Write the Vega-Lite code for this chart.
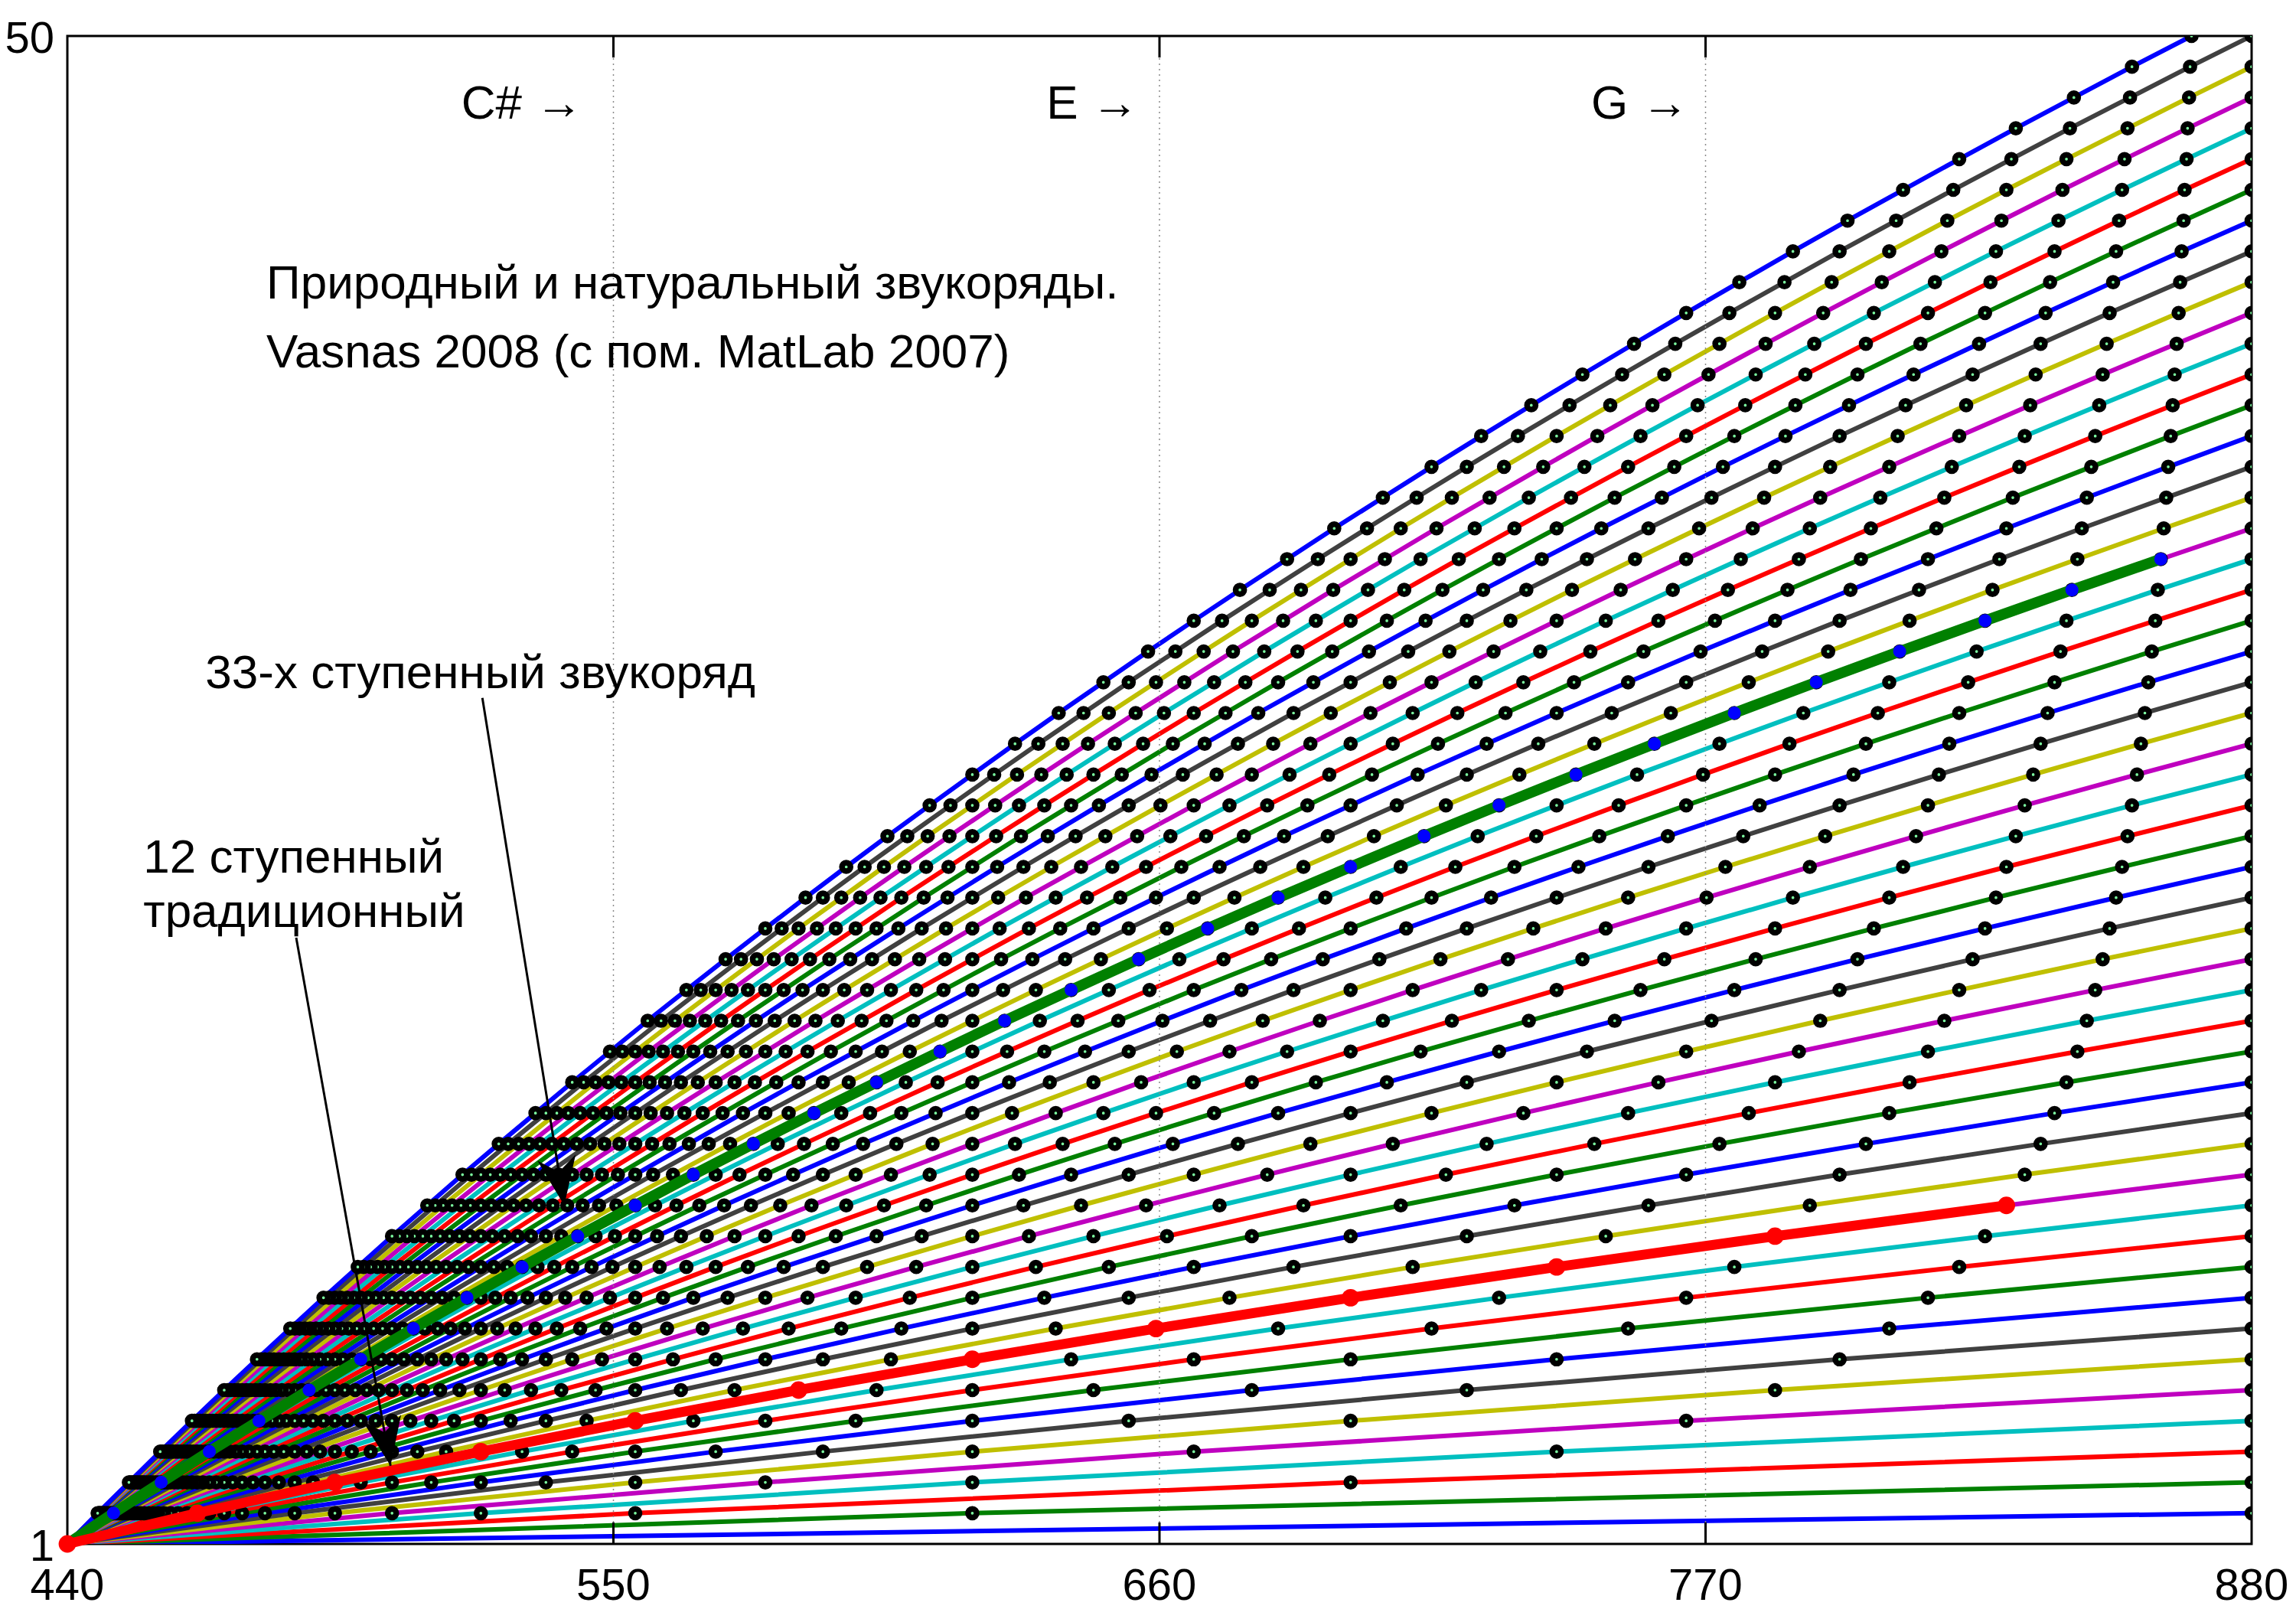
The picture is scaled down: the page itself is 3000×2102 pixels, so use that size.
{
"$schema":"https://vega.github.io/schema/vega-lite/v6.json",
"width":2854,"height":1970,
"autosize":{"type":"none"},
"padding":{"left":88,"top":47,"right":58,"bottom":85},
"background":"white",
"config":{"view":{"stroke":"black","strokeWidth":3},"font":"Liberation Sans"},
"datasets":{
"grid":[{"t":550},{"t":660},{"t":770}],
"xl":[{"v":440,"t":"440"},{"v":550,"t":"550"},{"v":660,"t":"660"},{"v":770,"t":"770"},{"v":880,"t":"880"}],
"yl":[{"v":1,"t":"1"},{"v":50,"t":"50"}],
"arr":[{"id":1,"x":523.6,"y":28.49,"x2":540.1,"y2":12.0},{"id":2,"x":486.1,"y":20.7,"x2":505.1,"y2":3.54}],
"txt":[{"x":480.1,"y":41.47,"t":"Природный и натуральный звукоряды."},{"x":480.1,"y":39.23,"t":"Vasnas 2008 (с пом. MatLab 2007)"},{"x":467.8,"y":28.81,"t":"33-х ступенный звукоряд"},{"x":455.3,"y":22.82,"t":"12 ступенный"},{"x":455.3,"y":21.05,"t":"традиционный"}],
"notes":[{"x":543.8,"y":47.32,"t":"C# →"},{"x":655.8,"y":47.32,"t":"E →"},{"x":766.6,"y":47.32,"t":"G →"}],
"pts":[
{"n":1,"x":440,"y":1},{"n":1,"x":880,"y":2},
{"n":2,"x":440,"y":1},{"n":2,"x":622.3,"y":2},{"n":2,"x":880,"y":3},
{"n":3,"x":440,"y":1},{"n":3,"x":554.4,"y":2},{"n":3,"x":698.5,"y":3},{"n":3,"x":880,"y":4},
{"n":4,"x":440,"y":1},{"n":4,"x":523.3,"y":2},{"n":4,"x":622.3,"y":3},{"n":4,"x":740.0,"y":4},{"n":4,"x":880,"y":5},
{"n":5,"x":440,"y":1},{"n":5,"x":505.4,"y":2},{"n":5,"x":580.6,"y":3},{"n":5,"x":666.9,"y":4},{"n":5,"x":766.1,"y":5},{"n":5,"x":880,"y":6},
{"n":6,"x":440,"y":1},{"n":6,"x":493.9,"y":2},{"n":6,"x":554.4,"y":3},{"n":6,"x":622.3,"y":4},{"n":6,"x":698.5,"y":5},{"n":6,"x":784.0,"y":6},{"n":6,"x":880,"y":7},
{"n":7,"x":440,"y":1},{"n":7,"x":485.8,"y":2},{"n":7,"x":536.4,"y":3},{"n":7,"x":592.2,"y":4},{"n":7,"x":653.8,"y":5},{"n":7,"x":721.9,"y":6},{"n":7,"x":797.0,"y":7},{"n":7,"x":880,"y":8},
{"n":8,"x":440,"y":1},{"n":8,"x":479.8,"y":2},{"n":8,"x":523.3,"y":3},{"n":8,"x":570.6,"y":4},{"n":8,"x":622.3,"y":5},{"n":8,"x":678.6,"y":6},{"n":8,"x":740.0,"y":7},{"n":8,"x":807.0,"y":8},{"n":8,"x":880,"y":9},
{"n":9,"x":440,"y":1},{"n":9,"x":475.2,"y":2},{"n":9,"x":513.3,"y":3},{"n":9,"x":554.4,"y":4},{"n":9,"x":598.8,"y":5},{"n":9,"x":646.7,"y":6},{"n":9,"x":698.5,"y":7},{"n":9,"x":754.4,"y":8},{"n":9,"x":814.8,"y":9},{"n":9,"x":880,"y":10},
{"n":10,"x":440,"y":1},{"n":10,"x":471.6,"y":2},{"n":10,"x":505.4,"y":3},{"n":10,"x":541.7,"y":4},{"n":10,"x":580.6,"y":5},{"n":10,"x":622.3,"y":6},{"n":10,"x":666.9,"y":7},{"n":10,"x":714.8,"y":8},{"n":10,"x":766.1,"y":9},{"n":10,"x":821.1,"y":10},{"n":10,"x":880,"y":11},
{"n":11,"x":440,"y":1},{"n":11,"x":468.6,"y":2},{"n":11,"x":499.1,"y":3},{"n":11,"x":531.6,"y":4},{"n":11,"x":566.1,"y":5},{"n":11,"x":603.0,"y":6},{"n":11,"x":642.2,"y":7},{"n":11,"x":683.9,"y":8},{"n":11,"x":728.4,"y":9},{"n":11,"x":775.8,"y":10},{"n":11,"x":826.3,"y":11},{"n":11,"x":880,"y":12},
{"n":12,"x":440,"y":1},{"n":12,"x":466.2,"y":2},{"n":12,"x":493.9,"y":3},{"n":12,"x":523.3,"y":4},{"n":12,"x":554.4,"y":5},{"n":12,"x":587.3,"y":6},{"n":12,"x":622.3,"y":7},{"n":12,"x":659.3,"y":8},{"n":12,"x":698.5,"y":9},{"n":12,"x":740.0,"y":10},{"n":12,"x":784.0,"y":11},{"n":12,"x":830.6,"y":12},{"n":12,"x":880,"y":13},
{"n":13,"x":440,"y":1},{"n":13,"x":464.1,"y":2},{"n":13,"x":489.5,"y":3},{"n":13,"x":516.3,"y":4},{"n":13,"x":544.6,"y":5},{"n":13,"x":574.4,"y":6},{"n":13,"x":605.9,"y":7},{"n":13,"x":639.1,"y":8},{"n":13,"x":674.1,"y":9},{"n":13,"x":711.0,"y":10},{"n":13,"x":749.9,"y":11},{"n":13,"x":791.0,"y":12},{"n":13,"x":834.3,"y":13},{"n":13,"x":880,"y":14},
{"n":14,"x":440,"y":1},{"n":14,"x":462.3,"y":2},{"n":14,"x":485.8,"y":3},{"n":14,"x":510.5,"y":4},{"n":14,"x":536.4,"y":5},{"n":14,"x":563.6,"y":6},{"n":14,"x":592.2,"y":7},{"n":14,"x":622.3,"y":8},{"n":14,"x":653.8,"y":9},{"n":14,"x":687.0,"y":10},{"n":14,"x":721.9,"y":11},{"n":14,"x":758.5,"y":12},{"n":14,"x":797.0,"y":13},{"n":14,"x":837.5,"y":14},{"n":14,"x":880,"y":15},
{"n":15,"x":440,"y":1},{"n":15,"x":460.8,"y":2},{"n":15,"x":482.6,"y":3},{"n":15,"x":505.4,"y":4},{"n":15,"x":529.3,"y":5},{"n":15,"x":554.4,"y":6},{"n":15,"x":580.6,"y":7},{"n":15,"x":608.0,"y":8},{"n":15,"x":636.8,"y":9},{"n":15,"x":666.9,"y":10},{"n":15,"x":698.5,"y":11},{"n":15,"x":731.5,"y":12},{"n":15,"x":766.1,"y":13},{"n":15,"x":802.3,"y":14},{"n":15,"x":840.3,"y":15},{"n":15,"x":880,"y":16},
{"n":16,"x":440,"y":1},{"n":16,"x":459.5,"y":2},{"n":16,"x":479.8,"y":3},{"n":16,"x":501.1,"y":4},{"n":16,"x":523.3,"y":5},{"n":16,"x":546.4,"y":6},{"n":16,"x":570.6,"y":7},{"n":16,"x":595.9,"y":8},{"n":16,"x":622.3,"y":9},{"n":16,"x":649.8,"y":10},{"n":16,"x":678.6,"y":11},{"n":16,"x":708.6,"y":12},{"n":16,"x":740.0,"y":13},{"n":16,"x":772.8,"y":14},{"n":16,"x":807.0,"y":15},{"n":16,"x":842.7,"y":16},{"n":16,"x":880,"y":17},
{"n":17,"x":440,"y":1},{"n":17,"x":458.3,"y":2},{"n":17,"x":477.4,"y":3},{"n":17,"x":497.3,"y":4},{"n":17,"x":517.9,"y":5},{"n":17,"x":539.5,"y":6},{"n":17,"x":562.0,"y":7},{"n":17,"x":585.3,"y":8},{"n":17,"x":609.7,"y":9},{"n":17,"x":635.1,"y":10},{"n":17,"x":661.5,"y":11},{"n":17,"x":689.0,"y":12},{"n":17,"x":717.7,"y":13},{"n":17,"x":747.6,"y":14},{"n":17,"x":778.7,"y":15},{"n":17,"x":811.1,"y":16},{"n":17,"x":844.9,"y":17},{"n":17,"x":880,"y":18},
{"n":18,"x":440,"y":1},{"n":18,"x":457.3,"y":2},{"n":18,"x":475.2,"y":3},{"n":18,"x":493.9,"y":4},{"n":18,"x":513.3,"y":5},{"n":18,"x":533.4,"y":6},{"n":18,"x":554.4,"y":7},{"n":18,"x":576.1,"y":8},{"n":18,"x":598.8,"y":9},{"n":18,"x":622.3,"y":10},{"n":18,"x":646.7,"y":11},{"n":18,"x":672.1,"y":12},{"n":18,"x":698.5,"y":13},{"n":18,"x":725.9,"y":14},{"n":18,"x":754.4,"y":15},{"n":18,"x":784.0,"y":16},{"n":18,"x":814.8,"y":17},{"n":18,"x":846.8,"y":18},{"n":18,"x":880,"y":19},
{"n":19,"x":440,"y":1},{"n":19,"x":456.4,"y":2},{"n":19,"x":473.3,"y":3},{"n":19,"x":490.9,"y":4},{"n":19,"x":509.1,"y":5},{"n":19,"x":528.1,"y":6},{"n":19,"x":547.7,"y":7},{"n":19,"x":568.0,"y":8},{"n":19,"x":589.1,"y":9},{"n":19,"x":611.0,"y":10},{"n":19,"x":633.7,"y":11},{"n":19,"x":657.3,"y":12},{"n":19,"x":681.7,"y":13},{"n":19,"x":707.0,"y":14},{"n":19,"x":733.3,"y":15},{"n":19,"x":760.5,"y":16},{"n":19,"x":788.8,"y":17},{"n":19,"x":818.1,"y":18},{"n":19,"x":848.5,"y":19},{"n":19,"x":880,"y":20},
{"n":20,"x":440,"y":1},{"n":20,"x":455.5,"y":2},{"n":20,"x":471.6,"y":3},{"n":20,"x":488.2,"y":4},{"n":20,"x":505.4,"y":5},{"n":20,"x":523.3,"y":6},{"n":20,"x":541.7,"y":7},{"n":20,"x":560.8,"y":8},{"n":20,"x":580.6,"y":9},{"n":20,"x":601.1,"y":10},{"n":20,"x":622.3,"y":11},{"n":20,"x":644.2,"y":12},{"n":20,"x":666.9,"y":13},{"n":20,"x":690.4,"y":14},{"n":20,"x":714.8,"y":15},{"n":20,"x":740.0,"y":16},{"n":20,"x":766.1,"y":17},{"n":20,"x":793.1,"y":18},{"n":20,"x":821.1,"y":19},{"n":20,"x":850.0,"y":20},{"n":20,"x":880,"y":21},
{"n":21,"x":440,"y":1},{"n":21,"x":454.8,"y":2},{"n":21,"x":470.0,"y":3},{"n":21,"x":485.8,"y":4},{"n":21,"x":502.1,"y":5},{"n":21,"x":519.0,"y":6},{"n":21,"x":536.4,"y":7},{"n":21,"x":554.4,"y":8},{"n":21,"x":573.0,"y":9},{"n":21,"x":592.2,"y":10},{"n":21,"x":612.1,"y":11},{"n":21,"x":632.6,"y":12},{"n":21,"x":653.8,"y":13},{"n":21,"x":675.8,"y":14},{"n":21,"x":698.5,"y":15},{"n":21,"x":721.9,"y":16},{"n":21,"x":746.1,"y":17},{"n":21,"x":771.2,"y":18},{"n":21,"x":797.0,"y":19},{"n":21,"x":823.8,"y":20},{"n":21,"x":851.4,"y":21},{"n":21,"x":880,"y":22},
{"n":22,"x":440,"y":1},{"n":22,"x":454.1,"y":2},{"n":22,"x":468.6,"y":3},{"n":22,"x":483.6,"y":4},{"n":22,"x":499.1,"y":5},{"n":22,"x":515.1,"y":6},{"n":22,"x":531.6,"y":7},{"n":22,"x":548.6,"y":8},{"n":22,"x":566.1,"y":9},{"n":22,"x":584.3,"y":10},{"n":22,"x":603.0,"y":11},{"n":22,"x":622.3,"y":12},{"n":22,"x":642.2,"y":13},{"n":22,"x":662.7,"y":14},{"n":22,"x":683.9,"y":15},{"n":22,"x":705.8,"y":16},{"n":22,"x":728.4,"y":17},{"n":22,"x":751.7,"y":18},{"n":22,"x":775.8,"y":19},{"n":22,"x":800.6,"y":20},{"n":22,"x":826.3,"y":21},{"n":22,"x":852.7,"y":22},{"n":22,"x":880,"y":23},
{"n":23,"x":440,"y":1},{"n":23,"x":453.5,"y":2},{"n":23,"x":467.3,"y":3},{"n":23,"x":481.6,"y":4},{"n":23,"x":496.4,"y":5},{"n":23,"x":511.6,"y":6},{"n":23,"x":527.2,"y":7},{"n":23,"x":543.3,"y":8},{"n":23,"x":560.0,"y":9},{"n":23,"x":577.1,"y":10},{"n":23,"x":594.8,"y":11},{"n":23,"x":613.0,"y":12},{"n":23,"x":631.7,"y":13},{"n":23,"x":651.0,"y":14},{"n":23,"x":671.0,"y":15},{"n":23,"x":691.5,"y":16},{"n":23,"x":712.6,"y":17},{"n":23,"x":734.4,"y":18},{"n":23,"x":756.9,"y":19},{"n":23,"x":780.1,"y":20},{"n":23,"x":803.9,"y":21},{"n":23,"x":828.5,"y":22},{"n":23,"x":853.9,"y":23},{"n":23,"x":880,"y":24},
{"n":24,"x":440,"y":1},{"n":24,"x":452.9,"y":2},{"n":24,"x":466.2,"y":3},{"n":24,"x":479.8,"y":4},{"n":24,"x":493.9,"y":5},{"n":24,"x":508.4,"y":6},{"n":24,"x":523.3,"y":7},{"n":24,"x":538.6,"y":8},{"n":24,"x":554.4,"y":9},{"n":24,"x":570.6,"y":10},{"n":24,"x":587.3,"y":11},{"n":24,"x":604.5,"y":12},{"n":24,"x":622.3,"y":13},{"n":24,"x":640.5,"y":14},{"n":24,"x":659.3,"y":15},{"n":24,"x":678.6,"y":16},{"n":24,"x":698.5,"y":17},{"n":24,"x":718.9,"y":18},{"n":24,"x":740.0,"y":19},{"n":24,"x":761.7,"y":20},{"n":24,"x":784.0,"y":21},{"n":24,"x":807.0,"y":22},{"n":24,"x":830.6,"y":23},{"n":24,"x":855.0,"y":24},{"n":24,"x":880,"y":25},
{"n":25,"x":440,"y":1},{"n":25,"x":452.4,"y":2},{"n":25,"x":465.1,"y":3},{"n":25,"x":478.2,"y":4},{"n":25,"x":491.6,"y":5},{"n":25,"x":505.4,"y":6},{"n":25,"x":519.6,"y":7},{"n":25,"x":534.3,"y":8},{"n":25,"x":549.3,"y":9},{"n":25,"x":564.7,"y":10},{"n":25,"x":580.6,"y":11},{"n":25,"x":596.9,"y":12},{"n":25,"x":613.7,"y":13},{"n":25,"x":630.9,"y":14},{"n":25,"x":648.7,"y":15},{"n":25,"x":666.9,"y":16},{"n":25,"x":685.7,"y":17},{"n":25,"x":705.0,"y":18},{"n":25,"x":724.8,"y":19},{"n":25,"x":745.2,"y":20},{"n":25,"x":766.1,"y":21},{"n":25,"x":787.6,"y":22},{"n":25,"x":809.8,"y":23},{"n":25,"x":832.5,"y":24},{"n":25,"x":855.9,"y":25},{"n":25,"x":880,"y":26},
{"n":26,"x":440,"y":1},{"n":26,"x":451.9,"y":2},{"n":26,"x":464.1,"y":3},{"n":26,"x":476.6,"y":4},{"n":26,"x":489.5,"y":5},{"n":26,"x":502.7,"y":6},{"n":26,"x":516.3,"y":7},{"n":26,"x":530.3,"y":8},{"n":26,"x":544.6,"y":9},{"n":26,"x":559.3,"y":10},{"n":26,"x":574.4,"y":11},{"n":26,"x":589.9,"y":12},{"n":26,"x":605.9,"y":13},{"n":26,"x":622.3,"y":14},{"n":26,"x":639.1,"y":15},{"n":26,"x":656.3,"y":16},{"n":26,"x":674.1,"y":17},{"n":26,"x":692.3,"y":18},{"n":26,"x":711.0,"y":19},{"n":26,"x":730.2,"y":20},{"n":26,"x":749.9,"y":21},{"n":26,"x":770.2,"y":22},{"n":26,"x":791.0,"y":23},{"n":26,"x":812.4,"y":24},{"n":26,"x":834.3,"y":25},{"n":26,"x":856.9,"y":26},{"n":26,"x":880,"y":27},
{"n":27,"x":440,"y":1},{"n":27,"x":451.4,"y":2},{"n":27,"x":463.2,"y":3},{"n":27,"x":475.2,"y":4},{"n":27,"x":487.6,"y":5},{"n":27,"x":500.3,"y":6},{"n":27,"x":513.3,"y":7},{"n":27,"x":526.6,"y":8},{"n":27,"x":540.3,"y":9},{"n":27,"x":554.4,"y":10},{"n":27,"x":568.8,"y":11},{"n":27,"x":583.6,"y":12},{"n":27,"x":598.8,"y":13},{"n":27,"x":614.3,"y":14},{"n":27,"x":630.3,"y":15},{"n":27,"x":646.7,"y":16},{"n":27,"x":663.5,"y":17},{"n":27,"x":680.8,"y":18},{"n":27,"x":698.5,"y":19},{"n":27,"x":716.6,"y":20},{"n":27,"x":735.3,"y":21},{"n":27,"x":754.4,"y":22},{"n":27,"x":774.0,"y":23},{"n":27,"x":794.1,"y":24},{"n":27,"x":814.8,"y":25},{"n":27,"x":836.0,"y":26},{"n":27,"x":857.7,"y":27},{"n":27,"x":880,"y":28},
{"n":28,"x":440,"y":1},{"n":28,"x":451.0,"y":2},{"n":28,"x":462.3,"y":3},{"n":28,"x":473.9,"y":4},{"n":28,"x":485.8,"y":5},{"n":28,"x":498.0,"y":6},{"n":28,"x":510.5,"y":7},{"n":28,"x":523.3,"y":8},{"n":28,"x":536.4,"y":9},{"n":28,"x":549.8,"y":10},{"n":28,"x":563.6,"y":11},{"n":28,"x":577.7,"y":12},{"n":28,"x":592.2,"y":13},{"n":28,"x":607.0,"y":14},{"n":28,"x":622.3,"y":15},{"n":28,"x":637.9,"y":16},{"n":28,"x":653.8,"y":17},{"n":28,"x":670.2,"y":18},{"n":28,"x":687.0,"y":19},{"n":28,"x":704.3,"y":20},{"n":28,"x":721.9,"y":21},{"n":28,"x":740.0,"y":22},{"n":28,"x":758.5,"y":23},{"n":28,"x":777.6,"y":24},{"n":28,"x":797.0,"y":25},{"n":28,"x":817.0,"y":26},{"n":28,"x":837.5,"y":27},{"n":28,"x":858.5,"y":28},{"n":28,"x":880,"y":29},
{"n":29,"x":440,"y":1},{"n":29,"x":450.6,"y":2},{"n":29,"x":461.5,"y":3},{"n":29,"x":472.7,"y":4},{"n":29,"x":484.1,"y":5},{"n":29,"x":495.9,"y":6},{"n":29,"x":507.8,"y":7},{"n":29,"x":520.1,"y":8},{"n":29,"x":532.7,"y":9},{"n":29,"x":545.6,"y":10},{"n":29,"x":558.8,"y":11},{"n":29,"x":572.3,"y":12},{"n":29,"x":586.2,"y":13},{"n":29,"x":600.3,"y":14},{"n":29,"x":614.9,"y":15},{"n":29,"x":629.7,"y":16},{"n":29,"x":645.0,"y":17},{"n":29,"x":660.6,"y":18},{"n":29,"x":676.5,"y":19},{"n":29,"x":692.9,"y":20},{"n":29,"x":709.7,"y":21},{"n":29,"x":726.8,"y":22},{"n":29,"x":744.4,"y":23},{"n":29,"x":762.4,"y":24},{"n":29,"x":780.9,"y":25},{"n":29,"x":799.8,"y":26},{"n":29,"x":819.1,"y":27},{"n":29,"x":838.9,"y":28},{"n":29,"x":859.2,"y":29},{"n":29,"x":880,"y":30},
{"n":30,"x":440,"y":1},{"n":30,"x":450.3,"y":2},{"n":30,"x":460.8,"y":3},{"n":30,"x":471.6,"y":4},{"n":30,"x":482.6,"y":5},{"n":30,"x":493.9,"y":6},{"n":30,"x":505.4,"y":7},{"n":30,"x":517.2,"y":8},{"n":30,"x":529.3,"y":9},{"n":30,"x":541.7,"y":10},{"n":30,"x":554.4,"y":11},{"n":30,"x":567.3,"y":12},{"n":30,"x":580.6,"y":13},{"n":30,"x":594.2,"y":14},{"n":30,"x":608.0,"y":15},{"n":30,"x":622.3,"y":16},{"n":30,"x":636.8,"y":17},{"n":30,"x":651.7,"y":18},{"n":30,"x":666.9,"y":19},{"n":30,"x":682.5,"y":20},{"n":30,"x":698.5,"y":21},{"n":30,"x":714.8,"y":22},{"n":30,"x":731.5,"y":23},{"n":30,"x":748.6,"y":24},{"n":30,"x":766.1,"y":25},{"n":30,"x":784.0,"y":26},{"n":30,"x":802.3,"y":27},{"n":30,"x":821.1,"y":28},{"n":30,"x":840.3,"y":29},{"n":30,"x":859.9,"y":30},{"n":30,"x":880,"y":31},
{"n":31,"x":440,"y":1},{"n":31,"x":450.0,"y":2},{"n":31,"x":460.1,"y":3},{"n":31,"x":470.5,"y":4},{"n":31,"x":481.2,"y":5},{"n":31,"x":492.1,"y":6},{"n":31,"x":503.2,"y":7},{"n":31,"x":514.6,"y":8},{"n":31,"x":526.2,"y":9},{"n":31,"x":538.1,"y":10},{"n":31,"x":550.3,"y":11},{"n":31,"x":562.7,"y":12},{"n":31,"x":575.4,"y":13},{"n":31,"x":588.4,"y":14},{"n":31,"x":601.7,"y":15},{"n":31,"x":615.3,"y":16},{"n":31,"x":629.3,"y":17},{"n":31,"x":643.5,"y":18},{"n":31,"x":658.0,"y":19},{"n":31,"x":672.9,"y":20},{"n":31,"x":688.1,"y":21},{"n":31,"x":703.7,"y":22},{"n":31,"x":719.6,"y":23},{"n":31,"x":735.9,"y":24},{"n":31,"x":752.5,"y":25},{"n":31,"x":769.5,"y":26},{"n":31,"x":786.9,"y":27},{"n":31,"x":804.7,"y":28},{"n":31,"x":822.9,"y":29},{"n":31,"x":841.5,"y":30},{"n":31,"x":860.6,"y":31},{"n":31,"x":880,"y":32},
{"n":32,"x":440,"y":1},{"n":32,"x":449.6,"y":2},{"n":32,"x":459.5,"y":3},{"n":32,"x":469.5,"y":4},{"n":32,"x":479.8,"y":5},{"n":32,"x":490.3,"y":6},{"n":32,"x":501.1,"y":7},{"n":32,"x":512.0,"y":8},{"n":32,"x":523.3,"y":9},{"n":32,"x":534.7,"y":10},{"n":32,"x":546.4,"y":11},{"n":32,"x":558.4,"y":12},{"n":32,"x":570.6,"y":13},{"n":32,"x":583.1,"y":14},{"n":32,"x":595.9,"y":15},{"n":32,"x":608.9,"y":16},{"n":32,"x":622.3,"y":17},{"n":32,"x":635.9,"y":18},{"n":32,"x":649.8,"y":19},{"n":32,"x":664.0,"y":20},{"n":32,"x":678.6,"y":21},{"n":32,"x":693.4,"y":22},{"n":32,"x":708.6,"y":23},{"n":32,"x":724.1,"y":24},{"n":32,"x":740.0,"y":25},{"n":32,"x":756.2,"y":26},{"n":32,"x":772.8,"y":27},{"n":32,"x":789.7,"y":28},{"n":32,"x":807.0,"y":29},{"n":32,"x":824.6,"y":30},{"n":32,"x":842.7,"y":31},{"n":32,"x":861.1,"y":32},{"n":32,"x":880,"y":33},
{"n":33,"x":440,"y":1},{"n":33,"x":449.3,"y":2},{"n":33,"x":458.9,"y":3},{"n":33,"x":468.6,"y":4},{"n":33,"x":478.6,"y":5},{"n":33,"x":488.7,"y":6},{"n":33,"x":499.1,"y":7},{"n":33,"x":509.7,"y":8},{"n":33,"x":520.5,"y":9},{"n":33,"x":531.6,"y":10},{"n":33,"x":542.8,"y":11},{"n":33,"x":554.4,"y":12},{"n":33,"x":566.1,"y":13},{"n":33,"x":578.2,"y":14},{"n":33,"x":590.4,"y":15},{"n":33,"x":603.0,"y":16},{"n":33,"x":615.8,"y":17},{"n":33,"x":628.8,"y":18},{"n":33,"x":642.2,"y":19},{"n":33,"x":655.8,"y":20},{"n":33,"x":669.7,"y":21},{"n":33,"x":683.9,"y":22},{"n":33,"x":698.5,"y":23},{"n":33,"x":713.3,"y":24},{"n":33,"x":728.4,"y":25},{"n":33,"x":743.9,"y":26},{"n":33,"x":759.7,"y":27},{"n":33,"x":775.8,"y":28},{"n":33,"x":792.3,"y":29},{"n":33,"x":809.1,"y":30},{"n":33,"x":826.3,"y":31},{"n":33,"x":843.8,"y":32},{"n":33,"x":861.7,"y":33},{"n":33,"x":880,"y":34},
{"n":34,"x":440,"y":1},{"n":34,"x":449.1,"y":2},{"n":34,"x":458.3,"y":3},{"n":34,"x":467.8,"y":4},{"n":34,"x":477.4,"y":5},{"n":34,"x":487.2,"y":6},{"n":34,"x":497.3,"y":7},{"n":34,"x":507.5,"y":8},{"n":34,"x":517.9,"y":9},{"n":34,"x":528.6,"y":10},{"n":34,"x":539.5,"y":11},{"n":34,"x":550.6,"y":12},{"n":34,"x":562.0,"y":13},{"n":34,"x":573.5,"y":14},{"n":34,"x":585.3,"y":15},{"n":34,"x":597.4,"y":16},{"n":34,"x":609.7,"y":17},{"n":34,"x":622.3,"y":18},{"n":34,"x":635.1,"y":19},{"n":34,"x":648.2,"y":20},{"n":34,"x":661.5,"y":21},{"n":34,"x":675.1,"y":22},{"n":34,"x":689.0,"y":23},{"n":34,"x":703.2,"y":24},{"n":34,"x":717.7,"y":25},{"n":34,"x":732.5,"y":26},{"n":34,"x":747.6,"y":27},{"n":34,"x":763.0,"y":28},{"n":34,"x":778.7,"y":29},{"n":34,"x":794.7,"y":30},{"n":34,"x":811.1,"y":31},{"n":34,"x":827.8,"y":32},{"n":34,"x":844.9,"y":33},{"n":34,"x":862.3,"y":34},{"n":34,"x":880,"y":35},
{"n":35,"x":440,"y":1},{"n":35,"x":448.8,"y":2},{"n":35,"x":457.8,"y":3},{"n":35,"x":466.9,"y":4},{"n":35,"x":476.3,"y":5},{"n":35,"x":485.8,"y":6},{"n":35,"x":495.5,"y":7},{"n":35,"x":505.4,"y":8},{"n":35,"x":515.5,"y":9},{"n":35,"x":525.9,"y":10},{"n":35,"x":536.4,"y":11},{"n":35,"x":547.1,"y":12},{"n":35,"x":558.0,"y":13},{"n":35,"x":569.2,"y":14},{"n":35,"x":580.6,"y":15},{"n":35,"x":592.2,"y":16},{"n":35,"x":604.1,"y":17},{"n":35,"x":616.1,"y":18},{"n":35,"x":628.5,"y":19},{"n":35,"x":641.0,"y":20},{"n":35,"x":653.8,"y":21},{"n":35,"x":666.9,"y":22},{"n":35,"x":680.3,"y":23},{"n":35,"x":693.9,"y":24},{"n":35,"x":707.8,"y":25},{"n":35,"x":721.9,"y":26},{"n":35,"x":736.3,"y":27},{"n":35,"x":751.1,"y":28},{"n":35,"x":766.1,"y":29},{"n":35,"x":781.4,"y":30},{"n":35,"x":797.0,"y":31},{"n":35,"x":813.0,"y":32},{"n":35,"x":829.2,"y":33},{"n":35,"x":845.8,"y":34},{"n":35,"x":862.8,"y":35},{"n":35,"x":880,"y":36},
{"n":36,"x":440,"y":1},{"n":36,"x":448.6,"y":2},{"n":36,"x":457.3,"y":3},{"n":36,"x":466.2,"y":4},{"n":36,"x":475.2,"y":5},{"n":36,"x":484.5,"y":6},{"n":36,"x":493.9,"y":7},{"n":36,"x":503.5,"y":8},{"n":36,"x":513.3,"y":9},{"n":36,"x":523.3,"y":10},{"n":36,"x":533.4,"y":11},{"n":36,"x":543.8,"y":12},{"n":36,"x":554.4,"y":13},{"n":36,"x":565.2,"y":14},{"n":36,"x":576.1,"y":15},{"n":36,"x":587.3,"y":16},{"n":36,"x":598.8,"y":17},{"n":36,"x":610.4,"y":18},{"n":36,"x":622.3,"y":19},{"n":36,"x":634.4,"y":20},{"n":36,"x":646.7,"y":21},{"n":36,"x":659.3,"y":22},{"n":36,"x":672.1,"y":23},{"n":36,"x":685.1,"y":24},{"n":36,"x":698.5,"y":25},{"n":36,"x":712.0,"y":26},{"n":36,"x":725.9,"y":27},{"n":36,"x":740.0,"y":28},{"n":36,"x":754.4,"y":29},{"n":36,"x":769.0,"y":30},{"n":36,"x":784.0,"y":31},{"n":36,"x":799.2,"y":32},{"n":36,"x":814.8,"y":33},{"n":36,"x":830.6,"y":34},{"n":36,"x":846.8,"y":35},{"n":36,"x":863.2,"y":36},{"n":36,"x":880,"y":37},
{"n":37,"x":440,"y":1},{"n":37,"x":448.3,"y":2},{"n":37,"x":456.8,"y":3},{"n":37,"x":465.4,"y":4},{"n":37,"x":474.2,"y":5},{"n":37,"x":483.2,"y":6},{"n":37,"x":492.4,"y":7},{"n":37,"x":501.7,"y":8},{"n":37,"x":511.1,"y":9},{"n":37,"x":520.8,"y":10},{"n":37,"x":530.7,"y":11},{"n":37,"x":540.7,"y":12},{"n":37,"x":550.9,"y":13},{"n":37,"x":561.3,"y":14},{"n":37,"x":572.0,"y":15},{"n":37,"x":582.8,"y":16},{"n":37,"x":593.8,"y":17},{"n":37,"x":605.0,"y":18},{"n":37,"x":616.5,"y":19},{"n":37,"x":628.1,"y":20},{"n":37,"x":640.0,"y":21},{"n":37,"x":652.1,"y":22},{"n":37,"x":664.4,"y":23},{"n":37,"x":677.0,"y":24},{"n":37,"x":689.8,"y":25},{"n":37,"x":702.8,"y":26},{"n":37,"x":716.1,"y":27},{"n":37,"x":729.7,"y":28},{"n":37,"x":743.5,"y":29},{"n":37,"x":757.5,"y":30},{"n":37,"x":771.9,"y":31},{"n":37,"x":786.5,"y":32},{"n":37,"x":801.3,"y":33},{"n":37,"x":816.5,"y":34},{"n":37,"x":831.9,"y":35},{"n":37,"x":847.7,"y":36},{"n":37,"x":863.7,"y":37},{"n":37,"x":880,"y":38},
{"n":38,"x":440,"y":1},{"n":38,"x":448.1,"y":2},{"n":38,"x":456.4,"y":3},{"n":38,"x":464.8,"y":4},{"n":38,"x":473.3,"y":5},{"n":38,"x":482.0,"y":6},{"n":38,"x":490.9,"y":7},{"n":38,"x":499.9,"y":8},{"n":38,"x":509.1,"y":9},{"n":38,"x":518.5,"y":10},{"n":38,"x":528.1,"y":11},{"n":38,"x":537.8,"y":12},{"n":38,"x":547.7,"y":13},{"n":38,"x":557.8,"y":14},{"n":38,"x":568.0,"y":15},{"n":38,"x":578.5,"y":16},{"n":38,"x":589.1,"y":17},{"n":38,"x":600.0,"y":18},{"n":38,"x":611.0,"y":19},{"n":38,"x":622.3,"y":20},{"n":38,"x":633.7,"y":21},{"n":38,"x":645.4,"y":22},{"n":38,"x":657.3,"y":23},{"n":38,"x":669.4,"y":24},{"n":38,"x":681.7,"y":25},{"n":38,"x":694.2,"y":26},{"n":38,"x":707.0,"y":27},{"n":38,"x":720.0,"y":28},{"n":38,"x":733.3,"y":29},{"n":38,"x":746.8,"y":30},{"n":38,"x":760.5,"y":31},{"n":38,"x":774.5,"y":32},{"n":38,"x":788.8,"y":33},{"n":38,"x":803.3,"y":34},{"n":38,"x":818.1,"y":35},{"n":38,"x":833.2,"y":36},{"n":38,"x":848.5,"y":37},{"n":38,"x":864.1,"y":38},{"n":38,"x":880,"y":39},
{"n":39,"x":440,"y":1},{"n":39,"x":447.9,"y":2},{"n":39,"x":455.9,"y":3},{"n":39,"x":464.1,"y":4},{"n":39,"x":472.4,"y":5},{"n":39,"x":480.9,"y":6},{"n":39,"x":489.5,"y":7},{"n":39,"x":498.3,"y":8},{"n":39,"x":507.2,"y":9},{"n":39,"x":516.3,"y":10},{"n":39,"x":525.6,"y":11},{"n":39,"x":535.0,"y":12},{"n":39,"x":544.6,"y":13},{"n":39,"x":554.4,"y":14},{"n":39,"x":564.3,"y":15},{"n":39,"x":574.4,"y":16},{"n":39,"x":584.7,"y":17},{"n":39,"x":595.2,"y":18},{"n":39,"x":605.9,"y":19},{"n":39,"x":616.8,"y":20},{"n":39,"x":627.8,"y":21},{"n":39,"x":639.1,"y":22},{"n":39,"x":650.5,"y":23},{"n":39,"x":662.2,"y":24},{"n":39,"x":674.1,"y":25},{"n":39,"x":686.2,"y":26},{"n":39,"x":698.5,"y":27},{"n":39,"x":711.0,"y":28},{"n":39,"x":723.7,"y":29},{"n":39,"x":736.7,"y":30},{"n":39,"x":749.9,"y":31},{"n":39,"x":763.4,"y":32},{"n":39,"x":777.1,"y":33},{"n":39,"x":791.0,"y":34},{"n":39,"x":805.2,"y":35},{"n":39,"x":819.6,"y":36},{"n":39,"x":834.3,"y":37},{"n":39,"x":849.3,"y":38},{"n":39,"x":864.5,"y":39},{"n":39,"x":880,"y":40},
{"n":40,"x":440,"y":1},{"n":40,"x":447.7,"y":2},{"n":40,"x":455.5,"y":3},{"n":40,"x":463.5,"y":4},{"n":40,"x":471.6,"y":5},{"n":40,"x":479.8,"y":6},{"n":40,"x":488.2,"y":7},{"n":40,"x":496.7,"y":8},{"n":40,"x":505.4,"y":9},{"n":40,"x":514.3,"y":10},{"n":40,"x":523.3,"y":11},{"n":40,"x":532.4,"y":12},{"n":40,"x":541.7,"y":13},{"n":40,"x":551.2,"y":14},{"n":40,"x":560.8,"y":15},{"n":40,"x":570.6,"y":16},{"n":40,"x":580.6,"y":17},{"n":40,"x":590.7,"y":18},{"n":40,"x":601.1,"y":19},{"n":40,"x":611.6,"y":20},{"n":40,"x":622.3,"y":21},{"n":40,"x":633.1,"y":22},{"n":40,"x":644.2,"y":23},{"n":40,"x":655.5,"y":24},{"n":40,"x":666.9,"y":25},{"n":40,"x":678.6,"y":26},{"n":40,"x":690.4,"y":27},{"n":40,"x":702.5,"y":28},{"n":40,"x":714.8,"y":29},{"n":40,"x":727.3,"y":30},{"n":40,"x":740.0,"y":31},{"n":40,"x":752.9,"y":32},{"n":40,"x":766.1,"y":33},{"n":40,"x":779.5,"y":34},{"n":40,"x":793.1,"y":35},{"n":40,"x":807.0,"y":36},{"n":40,"x":821.1,"y":37},{"n":40,"x":835.4,"y":38},{"n":40,"x":850.0,"y":39},{"n":40,"x":864.9,"y":40},{"n":40,"x":880,"y":41},
{"n":41,"x":440,"y":1},{"n":41,"x":447.5,"y":2},{"n":41,"x":455.1,"y":3},{"n":41,"x":462.9,"y":4},{"n":41,"x":470.8,"y":5},{"n":41,"x":478.8,"y":6},{"n":41,"x":487.0,"y":7},{"n":41,"x":495.3,"y":8},{"n":41,"x":503.7,"y":9},{"n":41,"x":512.3,"y":10},{"n":41,"x":521.1,"y":11},{"n":41,"x":529.9,"y":12},{"n":41,"x":539.0,"y":13},{"n":41,"x":548.2,"y":14},{"n":41,"x":557.5,"y":15},{"n":41,"x":567.0,"y":16},{"n":41,"x":576.7,"y":17},{"n":41,"x":586.5,"y":18},{"n":41,"x":596.5,"y":19},{"n":41,"x":606.7,"y":20},{"n":41,"x":617.0,"y":21},{"n":41,"x":627.5,"y":22},{"n":41,"x":638.2,"y":23},{"n":41,"x":649.1,"y":24},{"n":41,"x":660.2,"y":25},{"n":41,"x":671.5,"y":26},{"n":41,"x":682.9,"y":27},{"n":41,"x":694.5,"y":28},{"n":41,"x":706.4,"y":29},{"n":41,"x":718.4,"y":30},{"n":41,"x":730.7,"y":31},{"n":41,"x":743.1,"y":32},{"n":41,"x":755.8,"y":33},{"n":41,"x":768.7,"y":34},{"n":41,"x":781.8,"y":35},{"n":41,"x":795.1,"y":36},{"n":41,"x":808.7,"y":37},{"n":41,"x":822.5,"y":38},{"n":41,"x":836.5,"y":39},{"n":41,"x":850.8,"y":40},{"n":41,"x":865.3,"y":41},{"n":41,"x":880,"y":42},
{"n":42,"x":440,"y":1},{"n":42,"x":447.3,"y":2},{"n":42,"x":454.8,"y":3},{"n":42,"x":462.3,"y":4},{"n":42,"x":470.0,"y":5},{"n":42,"x":477.9,"y":6},{"n":42,"x":485.8,"y":7},{"n":42,"x":493.9,"y":8},{"n":42,"x":502.1,"y":9},{"n":42,"x":510.5,"y":10},{"n":42,"x":519.0,"y":11},{"n":42,"x":527.6,"y":12},{"n":42,"x":536.4,"y":13},{"n":42,"x":545.3,"y":14},{"n":42,"x":554.4,"y":15},{"n":42,"x":563.6,"y":16},{"n":42,"x":573.0,"y":17},{"n":42,"x":582.5,"y":18},{"n":42,"x":592.2,"y":19},{"n":42,"x":602.1,"y":20},{"n":42,"x":612.1,"y":21},{"n":42,"x":622.3,"y":22},{"n":42,"x":632.6,"y":23},{"n":42,"x":643.1,"y":24},{"n":42,"x":653.8,"y":25},{"n":42,"x":664.7,"y":26},{"n":42,"x":675.8,"y":27},{"n":42,"x":687.0,"y":28},{"n":42,"x":698.5,"y":29},{"n":42,"x":710.1,"y":30},{"n":42,"x":721.9,"y":31},{"n":42,"x":733.9,"y":32},{"n":42,"x":746.1,"y":33},{"n":42,"x":758.5,"y":34},{"n":42,"x":771.2,"y":35},{"n":42,"x":784.0,"y":36},{"n":42,"x":797.0,"y":37},{"n":42,"x":810.3,"y":38},{"n":42,"x":823.8,"y":39},{"n":42,"x":837.5,"y":40},{"n":42,"x":851.4,"y":41},{"n":42,"x":865.6,"y":42},{"n":42,"x":880,"y":43},
{"n":43,"x":440,"y":1},{"n":43,"x":447.2,"y":2},{"n":43,"x":454.4,"y":3},{"n":43,"x":461.8,"y":4},{"n":43,"x":469.3,"y":5},{"n":43,"x":476.9,"y":6},{"n":43,"x":484.7,"y":7},{"n":43,"x":492.6,"y":8},{"n":43,"x":500.6,"y":9},{"n":43,"x":508.7,"y":10},{"n":43,"x":517.0,"y":11},{"n":43,"x":525.4,"y":12},{"n":43,"x":533.9,"y":13},{"n":43,"x":542.6,"y":14},{"n":43,"x":551.4,"y":15},{"n":43,"x":560.4,"y":16},{"n":43,"x":569.5,"y":17},{"n":43,"x":578.7,"y":18},{"n":43,"x":588.1,"y":19},{"n":43,"x":597.7,"y":20},{"n":43,"x":607.4,"y":21},{"n":43,"x":617.3,"y":22},{"n":43,"x":627.3,"y":23},{"n":43,"x":637.5,"y":24},{"n":43,"x":647.8,"y":25},{"n":43,"x":658.4,"y":26},{"n":43,"x":669.1,"y":27},{"n":43,"x":679.9,"y":28},{"n":43,"x":691.0,"y":29},{"n":43,"x":702.2,"y":30},{"n":43,"x":713.6,"y":31},{"n":43,"x":725.2,"y":32},{"n":43,"x":737.0,"y":33},{"n":43,"x":749.0,"y":34},{"n":43,"x":761.2,"y":35},{"n":43,"x":773.5,"y":36},{"n":43,"x":786.1,"y":37},{"n":43,"x":798.9,"y":38},{"n":43,"x":811.9,"y":39},{"n":43,"x":825.1,"y":40},{"n":43,"x":838.5,"y":41},{"n":43,"x":852.1,"y":42},{"n":43,"x":865.9,"y":43},{"n":43,"x":880,"y":44},
{"n":44,"x":440,"y":1},{"n":44,"x":447.0,"y":2},{"n":44,"x":454.1,"y":3},{"n":44,"x":461.3,"y":4},{"n":44,"x":468.6,"y":5},{"n":44,"x":476.1,"y":6},{"n":44,"x":483.6,"y":7},{"n":44,"x":491.3,"y":8},{"n":44,"x":499.1,"y":9},{"n":44,"x":507.0,"y":10},{"n":44,"x":515.1,"y":11},{"n":44,"x":523.3,"y":12},{"n":44,"x":531.6,"y":13},{"n":44,"x":540.0,"y":14},{"n":44,"x":548.6,"y":15},{"n":44,"x":557.3,"y":16},{"n":44,"x":566.1,"y":17},{"n":44,"x":575.1,"y":18},{"n":44,"x":584.3,"y":19},{"n":44,"x":593.5,"y":20},{"n":44,"x":603.0,"y":21},{"n":44,"x":612.5,"y":22},{"n":44,"x":622.3,"y":23},{"n":44,"x":632.1,"y":24},{"n":44,"x":642.2,"y":25},{"n":44,"x":652.4,"y":26},{"n":44,"x":662.7,"y":27},{"n":44,"x":673.3,"y":28},{"n":44,"x":683.9,"y":29},{"n":44,"x":694.8,"y":30},{"n":44,"x":705.8,"y":31},{"n":44,"x":717.0,"y":32},{"n":44,"x":728.4,"y":33},{"n":44,"x":740.0,"y":34},{"n":44,"x":751.7,"y":35},{"n":44,"x":763.7,"y":36},{"n":44,"x":775.8,"y":37},{"n":44,"x":788.1,"y":38},{"n":44,"x":800.6,"y":39},{"n":44,"x":813.3,"y":40},{"n":44,"x":826.3,"y":41},{"n":44,"x":839.4,"y":42},{"n":44,"x":852.7,"y":43},{"n":44,"x":866.3,"y":44},{"n":44,"x":880,"y":45},
{"n":45,"x":440,"y":1},{"n":45,"x":446.8,"y":2},{"n":45,"x":453.8,"y":3},{"n":45,"x":460.8,"y":4},{"n":45,"x":468.0,"y":5},{"n":45,"x":475.2,"y":6},{"n":45,"x":482.6,"y":7},{"n":45,"x":490.1,"y":8},{"n":45,"x":497.7,"y":9},{"n":45,"x":505.4,"y":10},{"n":45,"x":513.3,"y":11},{"n":45,"x":521.2,"y":12},{"n":45,"x":529.3,"y":13},{"n":45,"x":537.6,"y":14},{"n":45,"x":545.9,"y":15},{"n":45,"x":554.4,"y":16},{"n":45,"x":563.0,"y":17},{"n":45,"x":571.7,"y":18},{"n":45,"x":580.6,"y":19},{"n":45,"x":589.6,"y":20},{"n":45,"x":598.8,"y":21},{"n":45,"x":608.0,"y":22},{"n":45,"x":617.5,"y":23},{"n":45,"x":627.1,"y":24},{"n":45,"x":636.8,"y":25},{"n":45,"x":646.7,"y":26},{"n":45,"x":656.7,"y":27},{"n":45,"x":666.9,"y":28},{"n":45,"x":677.3,"y":29},{"n":45,"x":687.8,"y":30},{"n":45,"x":698.5,"y":31},{"n":45,"x":709.3,"y":32},{"n":45,"x":720.3,"y":33},{"n":45,"x":731.5,"y":34},{"n":45,"x":742.9,"y":35},{"n":45,"x":754.4,"y":36},{"n":45,"x":766.1,"y":37},{"n":45,"x":778.0,"y":38},{"n":45,"x":790.1,"y":39},{"n":45,"x":802.3,"y":40},{"n":45,"x":814.8,"y":41},{"n":45,"x":827.4,"y":42},{"n":45,"x":840.3,"y":43},{"n":45,"x":853.3,"y":44},{"n":45,"x":866.5,"y":45},{"n":45,"x":880,"y":46},
{"n":46,"x":440,"y":1},{"n":46,"x":446.7,"y":2},{"n":46,"x":453.5,"y":3},{"n":46,"x":460.4,"y":4},{"n":46,"x":467.3,"y":5},{"n":46,"x":474.4,"y":6},{"n":46,"x":481.6,"y":7},{"n":46,"x":488.9,"y":8},{"n":46,"x":496.4,"y":9},{"n":46,"x":503.9,"y":10},{"n":46,"x":511.6,"y":11},{"n":46,"x":519.3,"y":12},{"n":46,"x":527.2,"y":13},{"n":46,"x":535.2,"y":14},{"n":46,"x":543.3,"y":15},{"n":46,"x":551.6,"y":16},{"n":46,"x":560.0,"y":17},{"n":46,"x":568.5,"y":18},{"n":46,"x":577.1,"y":19},{"n":46,"x":585.9,"y":20},{"n":46,"x":594.8,"y":21},{"n":46,"x":603.8,"y":22},{"n":46,"x":613.0,"y":23},{"n":46,"x":622.3,"y":24},{"n":46,"x":631.7,"y":25},{"n":46,"x":641.3,"y":26},{"n":46,"x":651.0,"y":27},{"n":46,"x":660.9,"y":28},{"n":46,"x":671.0,"y":29},{"n":46,"x":681.1,"y":30},{"n":46,"x":691.5,"y":31},{"n":46,"x":702.0,"y":32},{"n":46,"x":712.6,"y":33},{"n":46,"x":723.5,"y":34},{"n":46,"x":734.4,"y":35},{"n":46,"x":745.6,"y":36},{"n":46,"x":756.9,"y":37},{"n":46,"x":768.4,"y":38},{"n":46,"x":780.1,"y":39},{"n":46,"x":791.9,"y":40},{"n":46,"x":803.9,"y":41},{"n":46,"x":816.2,"y":42},{"n":46,"x":828.5,"y":43},{"n":46,"x":841.1,"y":44},{"n":46,"x":853.9,"y":45},{"n":46,"x":866.9,"y":46},{"n":46,"x":880,"y":47},
{"n":47,"x":440,"y":1},{"n":47,"x":446.5,"y":2},{"n":47,"x":453.2,"y":3},{"n":47,"x":459.9,"y":4},{"n":47,"x":466.7,"y":5},{"n":47,"x":473.7,"y":6},{"n":47,"x":480.7,"y":7},{"n":47,"x":487.9,"y":8},{"n":47,"x":495.1,"y":9},{"n":47,"x":502.5,"y":10},{"n":47,"x":509.9,"y":11},{"n":47,"x":517.5,"y":12},{"n":47,"x":525.2,"y":13},{"n":47,"x":533.0,"y":14},{"n":47,"x":540.9,"y":15},{"n":47,"x":549.0,"y":16},{"n":47,"x":557.1,"y":17},{"n":47,"x":565.4,"y":18},{"n":47,"x":573.8,"y":19},{"n":47,"x":582.3,"y":20},{"n":47,"x":591.0,"y":21},{"n":47,"x":599.7,"y":22},{"n":47,"x":608.6,"y":23},{"n":47,"x":617.7,"y":24},{"n":47,"x":626.9,"y":25},{"n":47,"x":636.2,"y":26},{"n":47,"x":645.6,"y":27},{"n":47,"x":655.2,"y":28},{"n":47,"x":665.0,"y":29},{"n":47,"x":674.8,"y":30},{"n":47,"x":684.9,"y":31},{"n":47,"x":695.0,"y":32},{"n":47,"x":705.4,"y":33},{"n":47,"x":715.8,"y":34},{"n":47,"x":726.5,"y":35},{"n":47,"x":737.3,"y":36},{"n":47,"x":748.2,"y":37},{"n":47,"x":759.3,"y":38},{"n":47,"x":770.6,"y":39},{"n":47,"x":782.1,"y":40},{"n":47,"x":793.7,"y":41},{"n":47,"x":805.5,"y":42},{"n":47,"x":817.5,"y":43},{"n":47,"x":829.6,"y":44},{"n":47,"x":841.9,"y":45},{"n":47,"x":854.4,"y":46},{"n":47,"x":867.1,"y":47},{"n":47,"x":880,"y":48},
{"n":48,"x":440,"y":1},{"n":48,"x":446.4,"y":2},{"n":48,"x":452.9,"y":3},{"n":48,"x":459.5,"y":4},{"n":48,"x":466.2,"y":5},{"n":48,"x":472.9,"y":6},{"n":48,"x":479.8,"y":7},{"n":48,"x":486.8,"y":8},{"n":48,"x":493.9,"y":9},{"n":48,"x":501.1,"y":10},{"n":48,"x":508.4,"y":11},{"n":48,"x":515.7,"y":12},{"n":48,"x":523.3,"y":13},{"n":48,"x":530.9,"y":14},{"n":48,"x":538.6,"y":15},{"n":48,"x":546.4,"y":16},{"n":48,"x":554.4,"y":17},{"n":48,"x":562.4,"y":18},{"n":48,"x":570.6,"y":19},{"n":48,"x":578.9,"y":20},{"n":48,"x":587.3,"y":21},{"n":48,"x":595.9,"y":22},{"n":48,"x":604.5,"y":23},{"n":48,"x":613.3,"y":24},{"n":48,"x":622.3,"y":25},{"n":48,"x":631.3,"y":26},{"n":48,"x":640.5,"y":27},{"n":48,"x":649.8,"y":28},{"n":48,"x":659.3,"y":29},{"n":48,"x":668.9,"y":30},{"n":48,"x":678.6,"y":31},{"n":48,"x":688.5,"y":32},{"n":48,"x":698.5,"y":33},{"n":48,"x":708.6,"y":34},{"n":48,"x":718.9,"y":35},{"n":48,"x":729.4,"y":36},{"n":48,"x":740.0,"y":37},{"n":48,"x":750.8,"y":38},{"n":48,"x":761.7,"y":39},{"n":48,"x":772.8,"y":40},{"n":48,"x":784.0,"y":41},{"n":48,"x":795.4,"y":42},{"n":48,"x":807.0,"y":43},{"n":48,"x":818.7,"y":44},{"n":48,"x":830.6,"y":45},{"n":48,"x":842.7,"y":46},{"n":48,"x":855.0,"y":47},{"n":48,"x":867.4,"y":48},{"n":48,"x":880,"y":49},
{"n":49,"x":440,"y":1},{"n":49,"x":446.3,"y":2},{"n":49,"x":452.6,"y":3},{"n":49,"x":459.1,"y":4},{"n":49,"x":465.6,"y":5},{"n":49,"x":472.3,"y":6},{"n":49,"x":479.0,"y":7},{"n":49,"x":485.8,"y":8},{"n":49,"x":492.7,"y":9},{"n":49,"x":499.7,"y":10},{"n":49,"x":506.9,"y":11},{"n":49,"x":514.1,"y":12},{"n":49,"x":521.4,"y":13},{"n":49,"x":528.8,"y":14},{"n":49,"x":536.4,"y":15},{"n":49,"x":544.0,"y":16},{"n":49,"x":551.8,"y":17},{"n":49,"x":559.6,"y":18},{"n":49,"x":567.6,"y":19},{"n":49,"x":575.7,"y":20},{"n":49,"x":583.9,"y":21},{"n":49,"x":592.2,"y":22},{"n":49,"x":600.6,"y":23},{"n":49,"x":609.2,"y":24},{"n":49,"x":617.9,"y":25},{"n":49,"x":626.7,"y":26},{"n":49,"x":635.6,"y":27},{"n":49,"x":644.7,"y":28},{"n":49,"x":653.8,"y":29},{"n":49,"x":663.2,"y":30},{"n":49,"x":672.6,"y":31},{"n":49,"x":682.2,"y":32},{"n":49,"x":691.9,"y":33},{"n":49,"x":701.8,"y":34},{"n":49,"x":711.8,"y":35},{"n":49,"x":721.9,"y":36},{"n":49,"x":732.2,"y":37},{"n":49,"x":742.6,"y":38},{"n":49,"x":753.2,"y":39},{"n":49,"x":763.9,"y":40},{"n":49,"x":774.8,"y":41},{"n":49,"x":785.9,"y":42},{"n":49,"x":797.0,"y":43},{"n":49,"x":808.4,"y":44},{"n":49,"x":819.9,"y":45},{"n":49,"x":831.6,"y":46},{"n":49,"x":843.4,"y":47},{"n":49,"x":855.5,"y":48},{"n":49,"x":867.6,"y":49},{"n":49,"x":880,"y":50},
{"n":50,"x":440,"y":1},{"n":50,"x":446.1,"y":2},{"n":50,"x":452.4,"y":3},{"n":50,"x":458.7,"y":4},{"n":50,"x":465.1,"y":5},{"n":50,"x":471.6,"y":6},{"n":50,"x":478.2,"y":7},{"n":50,"x":484.9,"y":8},{"n":50,"x":491.6,"y":9},{"n":50,"x":498.5,"y":10},{"n":50,"x":505.4,"y":11},{"n":50,"x":512.5,"y":12},{"n":50,"x":519.6,"y":13},{"n":50,"x":526.9,"y":14},{"n":50,"x":534.3,"y":15},{"n":50,"x":541.7,"y":16},{"n":50,"x":549.3,"y":17},{"n":50,"x":556.9,"y":18},{"n":50,"x":564.7,"y":19},{"n":50,"x":572.6,"y":20},{"n":50,"x":580.6,"y":21},{"n":50,"x":588.7,"y":22},{"n":50,"x":596.9,"y":23},{"n":50,"x":605.2,"y":24},{"n":50,"x":613.7,"y":25},{"n":50,"x":622.3,"y":26},{"n":50,"x":630.9,"y":27},{"n":50,"x":639.7,"y":28},{"n":50,"x":648.7,"y":29},{"n":50,"x":657.7,"y":30},{"n":50,"x":666.9,"y":31},{"n":50,"x":676.2,"y":32},{"n":50,"x":685.7,"y":33},{"n":50,"x":695.2,"y":34},{"n":50,"x":705.0,"y":35},{"n":50,"x":714.8,"y":36},{"n":50,"x":724.8,"y":37},{"n":50,"x":734.9,"y":38},{"n":50,"x":745.2,"y":39},{"n":50,"x":755.6,"y":40},{"n":50,"x":766.1,"y":41},{"n":50,"x":776.8,"y":42},{"n":50,"x":787.6,"y":43},{"n":50,"x":798.6,"y":44},{"n":50,"x":809.8,"y":45},{"n":50,"x":821.1,"y":46},{"n":50,"x":832.5,"y":47},{"n":50,"x":844.2,"y":48},{"n":50,"x":855.9,"y":49},{"n":50,"x":867.9,"y":50},{"n":50,"x":880,"y":51}
]},
"layer":[
{"data":{"name":"pts"},"mark":{"type":"line","strokeWidth":6,"clip":true},
 "encoding":{
  "x":{"field":"x","type":"quantitative","scale":{"domain":[440,880],"nice":false,"zero":false},"axis":null},
  "y":{"field":"y","type":"quantitative","scale":{"domain":[1,50],"nice":false,"zero":false},"axis":null},
  "color":{"field":"n","type":"nominal","legend":null,
   "scale":{"domain":[1,2,3,4,5,6,7,8,9,10,11,12,13,14,15,16,17,18,19,20,21,22,23,24,25,26,27,28,29,30,31,32,33,34,35,36,37,38,39,40,41,42,43,44,45,46,47,48,49,50],
   "range":["#0000FF","#008000","#FF0000","#00BFBF","#BF00BF","#BFBF00","#404040"]}}}},
{"data":{"name":"grid"},"mark":{"type":"rule","stroke":"#8a8a8a","strokeWidth":1.5,"strokeDash":[2,5]},
 "encoding":{"x":{"field":"t","type":"quantitative","axis":null},"y":{"datum":1,"type":"quantitative","axis":null},"y2":{"datum":50}}},
{"data":{"name":"grid"},"mark":{"type":"rule","stroke":"black","strokeWidth":3},
 "encoding":{"x":{"field":"t","type":"quantitative","axis":null},"y":{"datum":1,"type":"quantitative","axis":null},"y2":{"datum":1.7}}},
{"data":{"name":"grid"},"mark":{"type":"rule","stroke":"black","strokeWidth":3},
 "encoding":{"x":{"field":"t","type":"quantitative","axis":null},"y":{"datum":50,"type":"quantitative","axis":null},"y2":{"datum":49.3}}},
{"data":{"name":"pts"},"transform":[{"filter":"datum.y>1 && datum.y<=50"}],
 "mark":{"type":"point","shape":"circle","fill":"#7DFFA1","stroke":"black","strokeWidth":7.5,"size":125,"opacity":1,"fillOpacity":1,"clip":true},
 "encoding":{"x":{"field":"x","type":"quantitative","axis":null},"y":{"field":"y","type":"quantitative","axis":null}}},
{"data":{"name":"pts"},"transform":[{"filter":"datum.n==33 && datum.y<=33"}],
 "mark":{"type":"line","color":"#008000","strokeWidth":14},
 "encoding":{"x":{"field":"x","type":"quantitative","axis":null},"y":{"field":"y","type":"quantitative","axis":null}}},
{"data":{"name":"pts"},"transform":[{"filter":"datum.n==33 && datum.y<=33"}],
 "mark":{"type":"point","shape":"circle","filled":true,"color":"#0000FF","size":290,"opacity":1},
 "encoding":{"x":{"field":"x","type":"quantitative","axis":null},"y":{"field":"y","type":"quantitative","axis":null}}},
{"data":{"name":"pts"},"transform":[{"filter":"datum.n==12 && datum.y<=12"}],
 "mark":{"type":"line","color":"#FF0000","strokeWidth":13},
 "encoding":{"x":{"field":"x","type":"quantitative","axis":null},"y":{"field":"y","type":"quantitative","axis":null}}},
{"data":{"name":"pts"},"transform":[{"filter":"datum.n==12 && datum.y<=12"}],
 "mark":{"type":"point","shape":"circle","filled":true,"color":"#FF0000","size":520,"opacity":1},
 "encoding":{"x":{"field":"x","type":"quantitative","axis":null},"y":{"field":"y","type":"quantitative","axis":null}}},
{"data":{"name":"arr"},"mark":{"type":"rule","color":"black","strokeWidth":3},
 "encoding":{"x":{"field":"x","type":"quantitative","axis":null},"y":{"field":"y","type":"quantitative","axis":null},"x2":{"field":"x2"},"y2":{"field":"y2"}}},
{"data":{"name":"arr"},"transform":[{"filter":"datum.id==1"}],
 "mark":{"type":"point","shape":"M0,0L-0.4,-1L0,-0.7L0.4,-1Z","filled":true,"color":"black","size":16000,"opacity":1,"angle":-9.2},
 "encoding":{"x":{"field":"x2","type":"quantitative","axis":null},"y":{"field":"y2","type":"quantitative","axis":null}}},
{"data":{"name":"arr"},"transform":[{"filter":"datum.id==2"}],
 "mark":{"type":"point","shape":"M0,0L-0.4,-1L0,-0.7L0.4,-1Z","filled":true,"color":"black","size":16000,"opacity":1,"angle":-10.1},
 "encoding":{"x":{"field":"x2","type":"quantitative","axis":null},"y":{"field":"y2","type":"quantitative","axis":null}}},
{"data":{"name":"txt"},"mark":{"type":"text","align":"left","baseline":"alphabetic","fontSize":62,"font":"Liberation Sans","color":"black"},
 "encoding":{"x":{"field":"x","type":"quantitative","axis":null},"y":{"field":"y","type":"quantitative","axis":null},"text":{"field":"t"}}},
{"data":{"name":"notes"},"mark":{"type":"text","align":"right","baseline":"alphabetic","fontSize":62,"font":"Liberation Sans","color":"black"},
 "encoding":{"x":{"field":"x","type":"quantitative","axis":null},"y":{"field":"y","type":"quantitative","axis":null},"text":{"field":"t"}}},
{"data":{"name":"xl"},"mark":{"type":"text","align":"center","baseline":"alphabetic","fontSize":58,"font":"Liberation Sans","color":"black","dy":73},
 "encoding":{"x":{"field":"v","type":"quantitative","axis":null},"y":{"datum":1,"type":"quantitative","axis":null},"text":{"field":"t"}}},
{"data":{"name":"yl"},"mark":{"type":"text","align":"right","baseline":"alphabetic","fontSize":58,"font":"Liberation Sans","color":"black","dx":-17,"dy":22},
 "encoding":{"x":{"datum":440,"type":"quantitative","axis":null},"y":{"field":"v","type":"quantitative","axis":null},"text":{"field":"t"}}}
]
}
